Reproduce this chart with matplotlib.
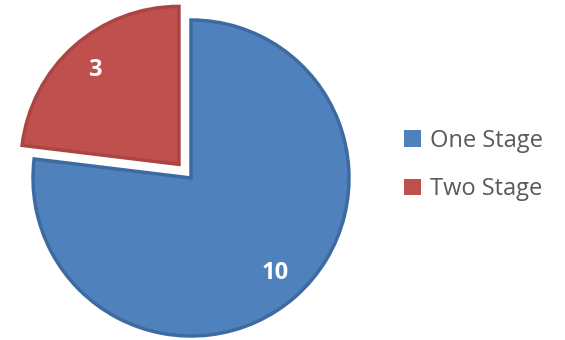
import matplotlib.pyplot as plt
from matplotlib.patches import Patch

labels = ["One Stage", "Two Stage"]
counts = [10, 3]
colors = ["#4F81BD", "#C0504D"]
edge_colors = ["#3D6AA0", "#AA4542"]
explode = [0, 0.115]

fig = plt.figure(figsize=(5.65, 3.4), dpi=100)
# square axes placed so the pie centre lands at about (191, 162) px, radius ~158 px
size = 2.4 * 158
cx, cy = 191, 162
ax = fig.add_axes([(cx - size / 2) / 565, (cy - size / 2) / 340, size / 565, size / 340])

total = sum(counts)
wedges, texts, autotexts = ax.pie(
    counts,
    colors=colors,
    explode=explode,
    startangle=90,
    counterclock=False,
    radius=1.0,
    autopct=lambda p: "{:d}".format(int(round(p * total / 100))),
    pctdistance=0.8,
    textprops=dict(color="white", fontsize=17, fontweight="bold", family="Open Sans"),
)
for w, ec in zip(wedges, edge_colors):
    w.set_edgecolor(ec)
    w.set_linewidth(2.5)
ax.set_xlim(-1.2, 1.2)
ax.set_ylim(-1.2, 1.2)
ax.set_aspect("equal")
ax.axis("off")

handles = [Patch(facecolor=c, edgecolor="none") for c in colors]
fig.legend(
    handles,
    labels,
    loc="center left",
    bbox_to_anchor=(404 / 565, 1 - 165 / 340),
    frameon=False,
    borderaxespad=0,
    borderpad=0,
    handlelength=0.7,
    handleheight=0.7,
    handletextpad=0.4,
    labelspacing=1.05,
    prop=dict(family="Open Sans", size=17),
    labelcolor="#595959",
)

fig.savefig("out.png", dpi=100)
